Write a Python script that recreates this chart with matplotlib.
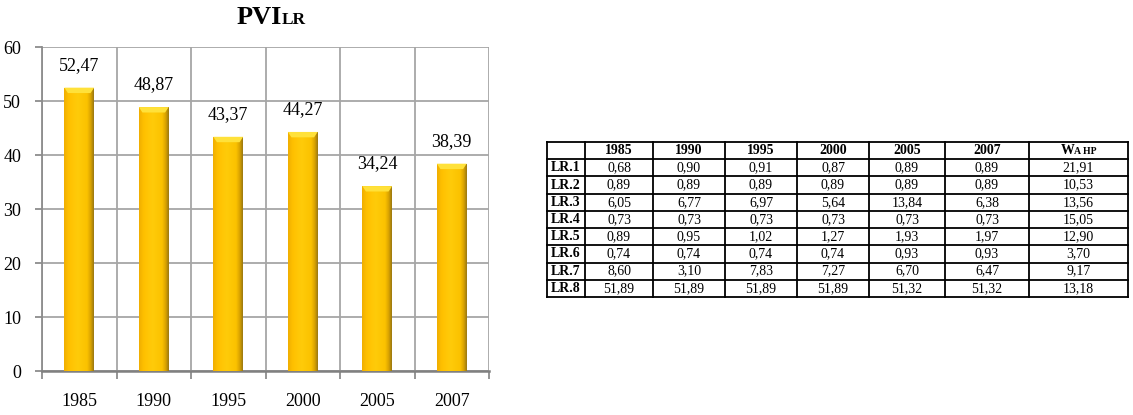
import numpy as np
import matplotlib
matplotlib.use('Agg')
import matplotlib.pyplot as plt
from matplotlib.colors import LinearSegmentedColormap
from matplotlib.patches import Polygon
from matplotlib.offsetbox import TextArea, HPacker, AnnotationBbox

plt.rcParams['font.family'] = ['Liberation Serif', 'DejaVu Serif']

# ---------------- data ----------------
years = ['1985', '1990', '1995', '2000', '2005', '2007']
pvi = [52.47, 48.87, 43.37, 44.27, 34.24, 38.39]

row_labels = ['LR.1', 'LR.2', 'LR.3', 'LR.4', 'LR.5', 'LR.6', 'LR.7', 'LR.8']
col_headers = ['1985', '1990', '1995', '2000', '2005', '2007']
lr1 = [0.68, 0.90, 0.91, 0.87, 0.89, 0.89]
lr2 = [0.89, 0.89, 0.89, 0.89, 0.89, 0.89]
lr3 = [6.05, 6.77, 6.97, 5.64, 13.84, 6.38]
lr4 = [0.73, 0.73, 0.73, 0.73, 0.73, 0.73]
lr5 = [0.89, 0.95, 1.02, 1.27, 1.93, 1.97]
lr6 = [0.74, 0.74, 0.74, 0.74, 0.93, 0.93]
lr7 = [8.60, 3.10, 7.83, 7.27, 6.70, 6.47]
lr8 = [51.89, 51.89, 51.89, 51.89, 51.32, 51.32]
w_ahp = [21.91, 10.53, 13.56, 15.05, 12.90, 3.70, 9.17, 13.18]
table_values = [lr1, lr2, lr3, lr4, lr5, lr6, lr7, lr8]


def fmt(v):
    return f'{v:.2f}'.replace('.', ',')


W, H = 1133, 415
fig = plt.figure(figsize=(W / 100, H / 100), dpi=100)


def px_axes(l, t, r, b):
    return fig.add_axes([l / W, 1 - b / H, (r - l) / W, (b - t) / H])


# ---------------- bar chart ----------------
ax = px_axes(42, 47, 489, 371)
x = np.arange(len(years))
grid_c = '#A6A6A6'
bars = ax.bar(x, pvi, width=0.4, color='#FFC000', zorder=3, linewidth=0)

cmap = LinearSegmentedColormap.from_list(
    'gold', [(0.0, '#F0AE00'), (0.15, '#FFC000'), (0.45, '#FFCB0A'),
             (0.78, '#FBC200'), (0.9, '#D9A300'), (1.0, '#9A7812')])
grad = np.linspace(0, 1, 64).reshape(1, -1)
for b in bars:
    x0, w, h = b.get_x(), b.get_width(), b.get_height()
    im = ax.imshow(grad, extent=[x0, x0 + w, 0, h], aspect='auto', cmap=cmap,
                   zorder=3.5, interpolation='bicubic')
    im.set_clip_path(b)
    cap = 1.0
    d = w * 0.12
    ax.add_patch(Polygon([(x0, h), (x0 + w, h), (x0 + w - d, h - cap), (x0 + d, h - cap)],
                         closed=True, facecolor='#FFE13A', edgecolor='none', zorder=4))
    ax.annotate(fmt(h), xy=(x0 + w / 2, h), xytext=(0, 10), textcoords='offset points',
                ha='center', va='bottom', fontsize=13, zorder=5)

ax.set_xlim(-0.5, len(years) - 0.5)
ax.set_ylim(0, 60)
ax.set_yticks(range(0, 61, 10))
ax.set_xticks(x)
ax.set_xticklabels(years)
ax.set_xticks(np.arange(-0.5, len(years), 1), minor=True)
ax.grid(True, which='major', axis='y', color=grid_c, lw=1.3, zorder=0)
ax.grid(True, which='minor', axis='x', color=grid_c, lw=1.3, zorder=0)
ax.grid(False, which='major', axis='x')
ax.tick_params(axis='x', which='major', length=0, pad=16, labelsize=13)
ax.tick_params(axis='x', which='minor', length=6, color='#8C8C8C', width=1.3)
ax.tick_params(axis='y', length=5, color='#8C8C8C', width=1.3, pad=10, labelsize=13)
for s in ['top', 'right']:
    ax.spines[s].set_visible(False)
ax.spines['left'].set_color('#8C8C8C')
ax.spines['left'].set_linewidth(1.3)
ax.spines['bottom'].set_color('#808080')
ax.spines['bottom'].set_linewidth(1.8)
ax.set_axisbelow(True)

# title PVI + small LR
title = HPacker(children=[TextArea('PVI', textprops=dict(fontsize=19, fontweight='bold')),
                          TextArea('LR', textprops=dict(fontsize=12.5, fontweight='bold'))],
                align='baseline', pad=0, sep=0)
ab = AnnotationBbox(title, (271 / W, 1 - 18 / H), xycoords='figure fraction',
                    frameon=False, box_alignment=(0.5, 0.5))
fig.add_artist(ab)

# ---------------- table ----------------
col_w = [38, 68, 72, 72, 72, 76, 84, 99]
edges = np.concatenate([[0], np.cumsum(col_w)])
nrows = len(row_labels) + 1
tx = px_axes(547, 142, 547 + edges[-1], 297)
tx.set_xlim(0, edges[-1])
tx.set_ylim(nrows, 0)
tx.axis('off')
for e in edges:
    tx.plot([e, e], [0, nrows], color='black', lw=1.3, solid_capstyle='projecting', clip_on=False)
for r in range(nrows + 1):
    tx.plot([0, edges[-1]], [r, r], color='black', lw=1.3, solid_capstyle='projecting', clip_on=False)

centers = (edges[:-1] + edges[1:]) / 2
fs = 10
for j, hdr in enumerate(col_headers):
    tx.text(centers[j + 1], 0.5, hdr, ha='center', va='center', fontsize=fs, fontweight='bold')
whead = HPacker(children=[TextArea('W', textprops=dict(fontsize=fs, fontweight='bold')),
                          TextArea('A HP', textprops=dict(fontsize=7, fontweight='bold'))],
                align='baseline', pad=0, sep=0)
tx.add_artist(AnnotationBbox(whead, (centers[-1], 0.5), xycoords='data', frameon=False,
                             box_alignment=(0.5, 0.5)))
for i, lab in enumerate(row_labels):
    yc = i + 1.5
    tx.text(centers[0], yc, lab, ha='center', va='center', fontsize=fs, fontweight='bold')
    for j, v in enumerate(table_values[i]):
        tx.text(centers[j + 1], yc, fmt(v), ha='center', va='center', fontsize=fs)
    tx.text(centers[-1], yc, fmt(w_ahp[i]), ha='center', va='center', fontsize=fs)

fig.savefig('out.png', dpi=100)
